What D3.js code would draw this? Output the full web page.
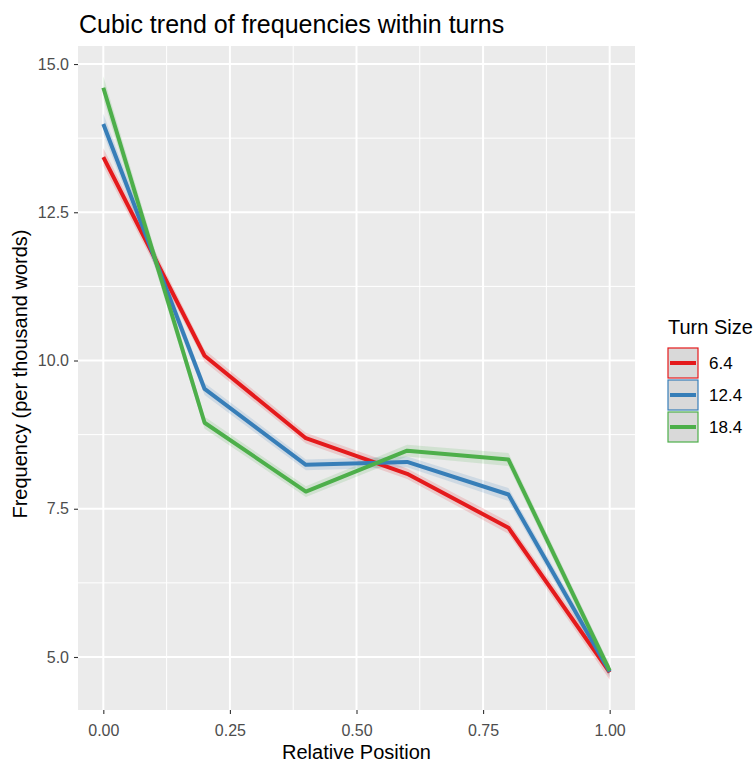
<!DOCTYPE html>
<html>
<head>
<meta charset="utf-8">
<script src="https://cdn.jsdelivr.net/npm/d3@7"></script>
<style>
	body { margin: 0; background: #fff; }
	text { font-family: "Liberation Sans", Arial, sans-serif; }
</style>
</head>
<body>
<svg id="svg_chart" width="756" height="762"></svg>
<script>
// positions along the turn
var positions = [0, 0.2, 0.4, 0.6, 0.8, 1.0];
var turnSizes = ["6.4", "12.4", "18.4"];
var colors = ["#E41A1C", "#377EB8", "#4DAF4A"];

// fitted frequencies per turn size
var freq_6_4 = [13.43, 10.08, 8.69, 8.09, 7.18, 4.74];
var freq_12_4 = [13.99, 9.52, 8.24, 8.29, 7.74, 4.75];
var freq_18_4 = [14.60, 8.95, 7.79, 8.48, 8.33, 4.77];

// half width of the confidence band
var se_6_4 = [0.15, 0.1, 0.09, 0.09, 0.1, 0.125];
var se_12_4 = [0.17, 0.1, 0.09, 0.09, 0.11, 0.1];
var se_18_4 = [0.195, 0.1, 0.09, 0.1, 0.11, 0.1];

var xTicks = [0, 0.25, 0.5, 0.75, 1.0];
var yTicks = [5.0, 7.5, 10.0, 12.5, 15.0];

function renderChart() {
	var svg = d3.select("#svg_chart"),
		margin = {
			top: 46,
			left: 78,
			right: 121,
			bottom: 52
		},
		width = +svg.attr("width"),
		height = +svg.attr("height");

	var series = [
		{ "name": turnSizes[0], "color": colors[0], "values": freq_6_4, "se": se_6_4 },
		{ "name": turnSizes[1], "color": colors[1], "values": freq_12_4, "se": se_12_4 },
		{ "name": turnSizes[2], "color": colors[2], "values": freq_18_4, "se": se_18_4 }
	];
	series.forEach(function(s) {
		s.points = positions.map(function(p, i) {
			return { "x": p, "y": s.values[i], "lo": s.values[i] - s.se[i], "hi": s.values[i] + s.se[i] };
		});
	});

	var allLo = d3.min(series, function(s) { return d3.min(s.points, function(d) { return d.lo; }); }),
		allHi = d3.max(series, function(s) { return d3.max(s.points, function(d) { return d.hi; }); }),
		padY = (allHi - allLo) * 0.05,
		padX = 0.05;

	var xScale = d3.scaleLinear()
		.domain([0 - padX, 1 + padX])
		.range([margin.left, width - margin.right]);
	var yScale = d3.scaleLinear()
		.domain([allLo - padY, allHi + padY])
		.range([height - margin.bottom, margin.top]);

	var x0 = margin.left, x1 = width - margin.right,
		y0 = margin.top, y1 = height - margin.bottom;

	// panel
	svg.append("rect")
		.attr("x", x0).attr("y", y0)
		.attr("width", x1 - x0).attr("height", y1 - y0)
		.attr("fill", "#EBEBEB");

	var grid = svg.append("g").attr("class", "grid");
	var xMinor = d3.range(0.125, 1, 0.25);
	var yMinor = [6.25, 8.75, 11.25, 13.75];
	grid.selectAll(".xminor").data(xMinor).enter().append("line")
		.attr("x1", function(d) { return xScale(d); }).attr("x2", function(d) { return xScale(d); })
		.attr("y1", y0).attr("y2", y1)
		.attr("stroke", "#fff").attr("stroke-width", 1);
	grid.selectAll(".yminor").data(yMinor).enter().append("line")
		.attr("y1", function(d) { return yScale(d); }).attr("y2", function(d) { return yScale(d); })
		.attr("x1", x0).attr("x2", x1)
		.attr("stroke", "#fff").attr("stroke-width", 1);
	grid.selectAll(".xmajor").data(xTicks).enter().append("line")
		.attr("x1", function(d) { return xScale(d); }).attr("x2", function(d) { return xScale(d); })
		.attr("y1", y0).attr("y2", y1)
		.attr("stroke", "#fff").attr("stroke-width", 2);
	grid.selectAll(".ymajor").data(yTicks).enter().append("line")
		.attr("y1", function(d) { return yScale(d); }).attr("y2", function(d) { return yScale(d); })
		.attr("x1", x0).attr("x2", x1)
		.attr("stroke", "#fff").attr("stroke-width", 2);

	// ribbons and lines
	var area = d3.area()
		.x(function(d) { return xScale(d.x); })
		.y0(function(d) { return yScale(d.lo); })
		.y1(function(d) { return yScale(d.hi); });
	var line = d3.line()
		.x(function(d) { return xScale(d.x); })
		.y(function(d) { return yScale(d.y); });

	var g_data = svg.append("g").attr("id", "data");
	g_data.selectAll(".band").data(series).enter().append("path")
		.attr("d", function(d) { return area(d.points); })
		.attr("fill", function(d) { return d.color; })
		.attr("fill-opacity", 0.16)
		.attr("stroke", "none");
	g_data.selectAll(".line").data(series).enter().append("path")
		.attr("d", function(d) { return line(d.points); })
		.attr("fill", "none")
		.attr("stroke", function(d) { return d.color; })
		.attr("stroke-width", 4)
		.attr("stroke-linejoin", "round");

	// axes
	var xAxis = d3.axisBottom(xScale)
		.tickValues(xTicks)
		.tickFormat(d3.format(".2f"))
		.tickSize(4).tickPadding(11);
	var yAxis = d3.axisLeft(yScale)
		.tickValues(yTicks)
		.tickFormat(d3.format(".1f"))
		.tickSize(4).tickPadding(5);

	var gx = svg.append("g").attr("transform", "translate(0," + y1 + ")").call(xAxis);
	var gy = svg.append("g").attr("transform", "translate(" + x0 + ",0)").call(yAxis);
	[gx, gy].forEach(function(g) {
		g.select(".domain").remove();
		g.selectAll(".tick line").attr("stroke", "#333").attr("stroke-width", 1.1);
		g.selectAll(".tick text")
			.attr("fill", "#4D4D4D")
			.style("font-size", "16px")
			.style("font-family", "'Liberation Sans', Arial, sans-serif");
	});

	// titles
	svg.append("text")
		.attr("x", x0 + 1).attr("y", 33)
		.style("font-size", "25px")
		.attr("fill", "#000")
		.text("Cubic trend of frequencies within turns");
	svg.append("text")
		.attr("x", (x0 + x1) / 2).attr("y", 759)
		.attr("text-anchor", "middle")
		.style("font-size", "20px")
		.text("Relative Position");
	svg.append("text")
		.attr("transform", "translate(27," + ((y0 + y1) / 2 - 4) + ") rotate(-90)")
		.attr("text-anchor", "middle")
		.style("font-size", "20px")
		.text("Frequency (per thousand words)");

	// legend
	var legend = svg.append("g").attr("transform", "translate(667,0)");
	legend.append("text")
		.attr("x", 1).attr("y", 334)
		.style("font-size", "20px")
		.text("Turn Size");
	var key = legend.selectAll(".key").data(series).enter().append("g")
		.attr("transform", function(d, i) { return "translate(0," + (348 + i * 32) + ")"; });
	key.append("rect")
		.attr("x", 1).attr("y", 0)
		.attr("width", 30).attr("height", 30)
		.attr("fill", "#D9D9D9")
		.attr("stroke", function(d) { return d.color; })
		.attr("stroke-width", 1.2);
	key.append("line")
		.attr("x1", 3).attr("x2", 29)
		.attr("y1", 15).attr("y2", 15)
		.attr("stroke", function(d) { return d.color; })
		.attr("stroke-width", 4);
	key.append("text")
		.attr("x", 42).attr("y", 21)
		.style("font-size", "17px")
		.attr("fill", "#000")
		.text(function(d) { return d.name; });
}

renderChart();
</script>
</body>
</html>
